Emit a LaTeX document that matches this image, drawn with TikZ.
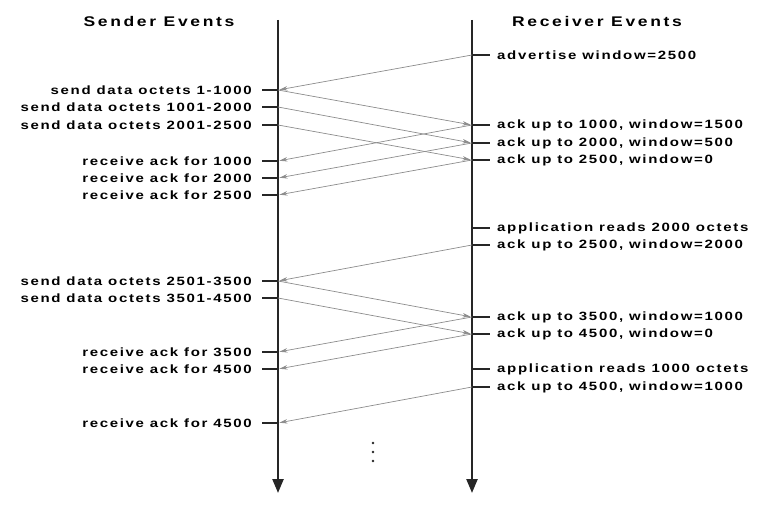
\documentclass[tikz,border=0pt]{standalone}
\usepackage{fontspec}
\setmainfont{Liberation Sans}
\newfontfamily\evfont[FakeStretch=1.25,LetterSpace=14]{Liberation Sans Bold}
\newfontfamily\hdfont[FakeStretch=1.25,LetterSpace=19]{Liberation Sans Bold}
\usetikzlibrary{arrows.meta}
\begin{document}
\begin{tikzpicture}[x=1pt,y=-1pt,
  axisline/.style={line width=2.4pt,draw=black!85,-{Triangle[length=14pt,width=11pt]}},
  tickline/.style={line width=1.2pt,draw=black!85},
  msg/.style={draw=black!45,line width=0.7pt,-{Stealth[length=8pt,width=4.5pt,fill=black!45]},shorten >=1.5pt},
  ltext/.style={anchor=east,inner sep=0pt,font=\evfont\fontsize{12}{12}\selectfont},
  rtext/.style={anchor=west,inner sep=0pt,font=\evfont\fontsize{12}{12}\selectfont},
  hdr/.style={inner sep=0pt,font=\hdfont\fontsize{14}{14}\selectfont}]
\useasboundingbox (0,0) rectangle (768,518);
% axes
\coordinate (lt) at (278,20); \coordinate (lb) at (278,493);
\coordinate (rt) at (472,20); \coordinate (rb) at (472,493);
\draw[axisline] (lt) -- (lb);
\draw[axisline] (rt) -- (rb);
\node[hdr] (hs) at (159,22) {Sender Events};
\node[hdr] (hr) at (597,22) {Receiver Events};
% left events
\foreach \n/\y/\t in {s1/90/send data octets 1-1000, s2/107/send data octets 1001-2000, s3/125/send data octets 2001-2500,
  a1/161/receive ack for 1000, a2/178/receive ack for 2000, a3/195/receive ack for 2500,
  s4/281/send data octets 2501-3500, s5/298/send data octets 3501-4500,
  a4/352/receive ack for 3500, a5/369/receive ack for 4500, a6/423/receive ack for 4500}{
  \coordinate (\n) at (278,\y);
  \draw[tickline] (262,\y) -- (\n);
  \node[ltext] (t\n) at (252,\y) {\t};
}
% right events
\foreach \n/\y/\t in {w0/55/advertise window=2500, r1/125/{ack up to 1000, window=1500}, r2/143/{ack up to 2000, window=500},
  r3/160/{ack up to 2500, window=0}, p1/228/application reads 2000 octets, w1/245/{ack up to 2500, window=2000},
  r4/317/{ack up to 3500, window=1000}, r5/334/{ack up to 4500, window=0}, p2/369/application reads 1000 octets,
  w2/387/{ack up to 4500, window=1000}}{
  \coordinate (\n) at (472,\y);
  \draw[tickline] (\n) -- (490,\y);
  \node[rtext] (t\n) at (497,\y) {\t};
}
% messages
\draw[msg] (w0) -- (s1);
\draw[msg] (s1) -- (r1);
\draw[msg] (s2) -- (r2);
\draw[msg] (s3) -- (r3);
\draw[msg] (r1) -- (a1);
\draw[msg] (r2) -- (a2);
\draw[msg] (r3) -- (a3);
\draw[msg] (w1) -- (s4);
\draw[msg] (s4) -- (r4);
\draw[msg] (s5) -- (r5);
\draw[msg] (r4) -- (a4);
\draw[msg] (r5) -- (a5);
\draw[msg] (w2) -- (a6);
% continuation dots
\foreach \y [count=\i] in {443,452,461}{\fill[black!85] (373,\y) circle (1.4pt) coordinate (d\i);}
\end{tikzpicture}
\end{document}
